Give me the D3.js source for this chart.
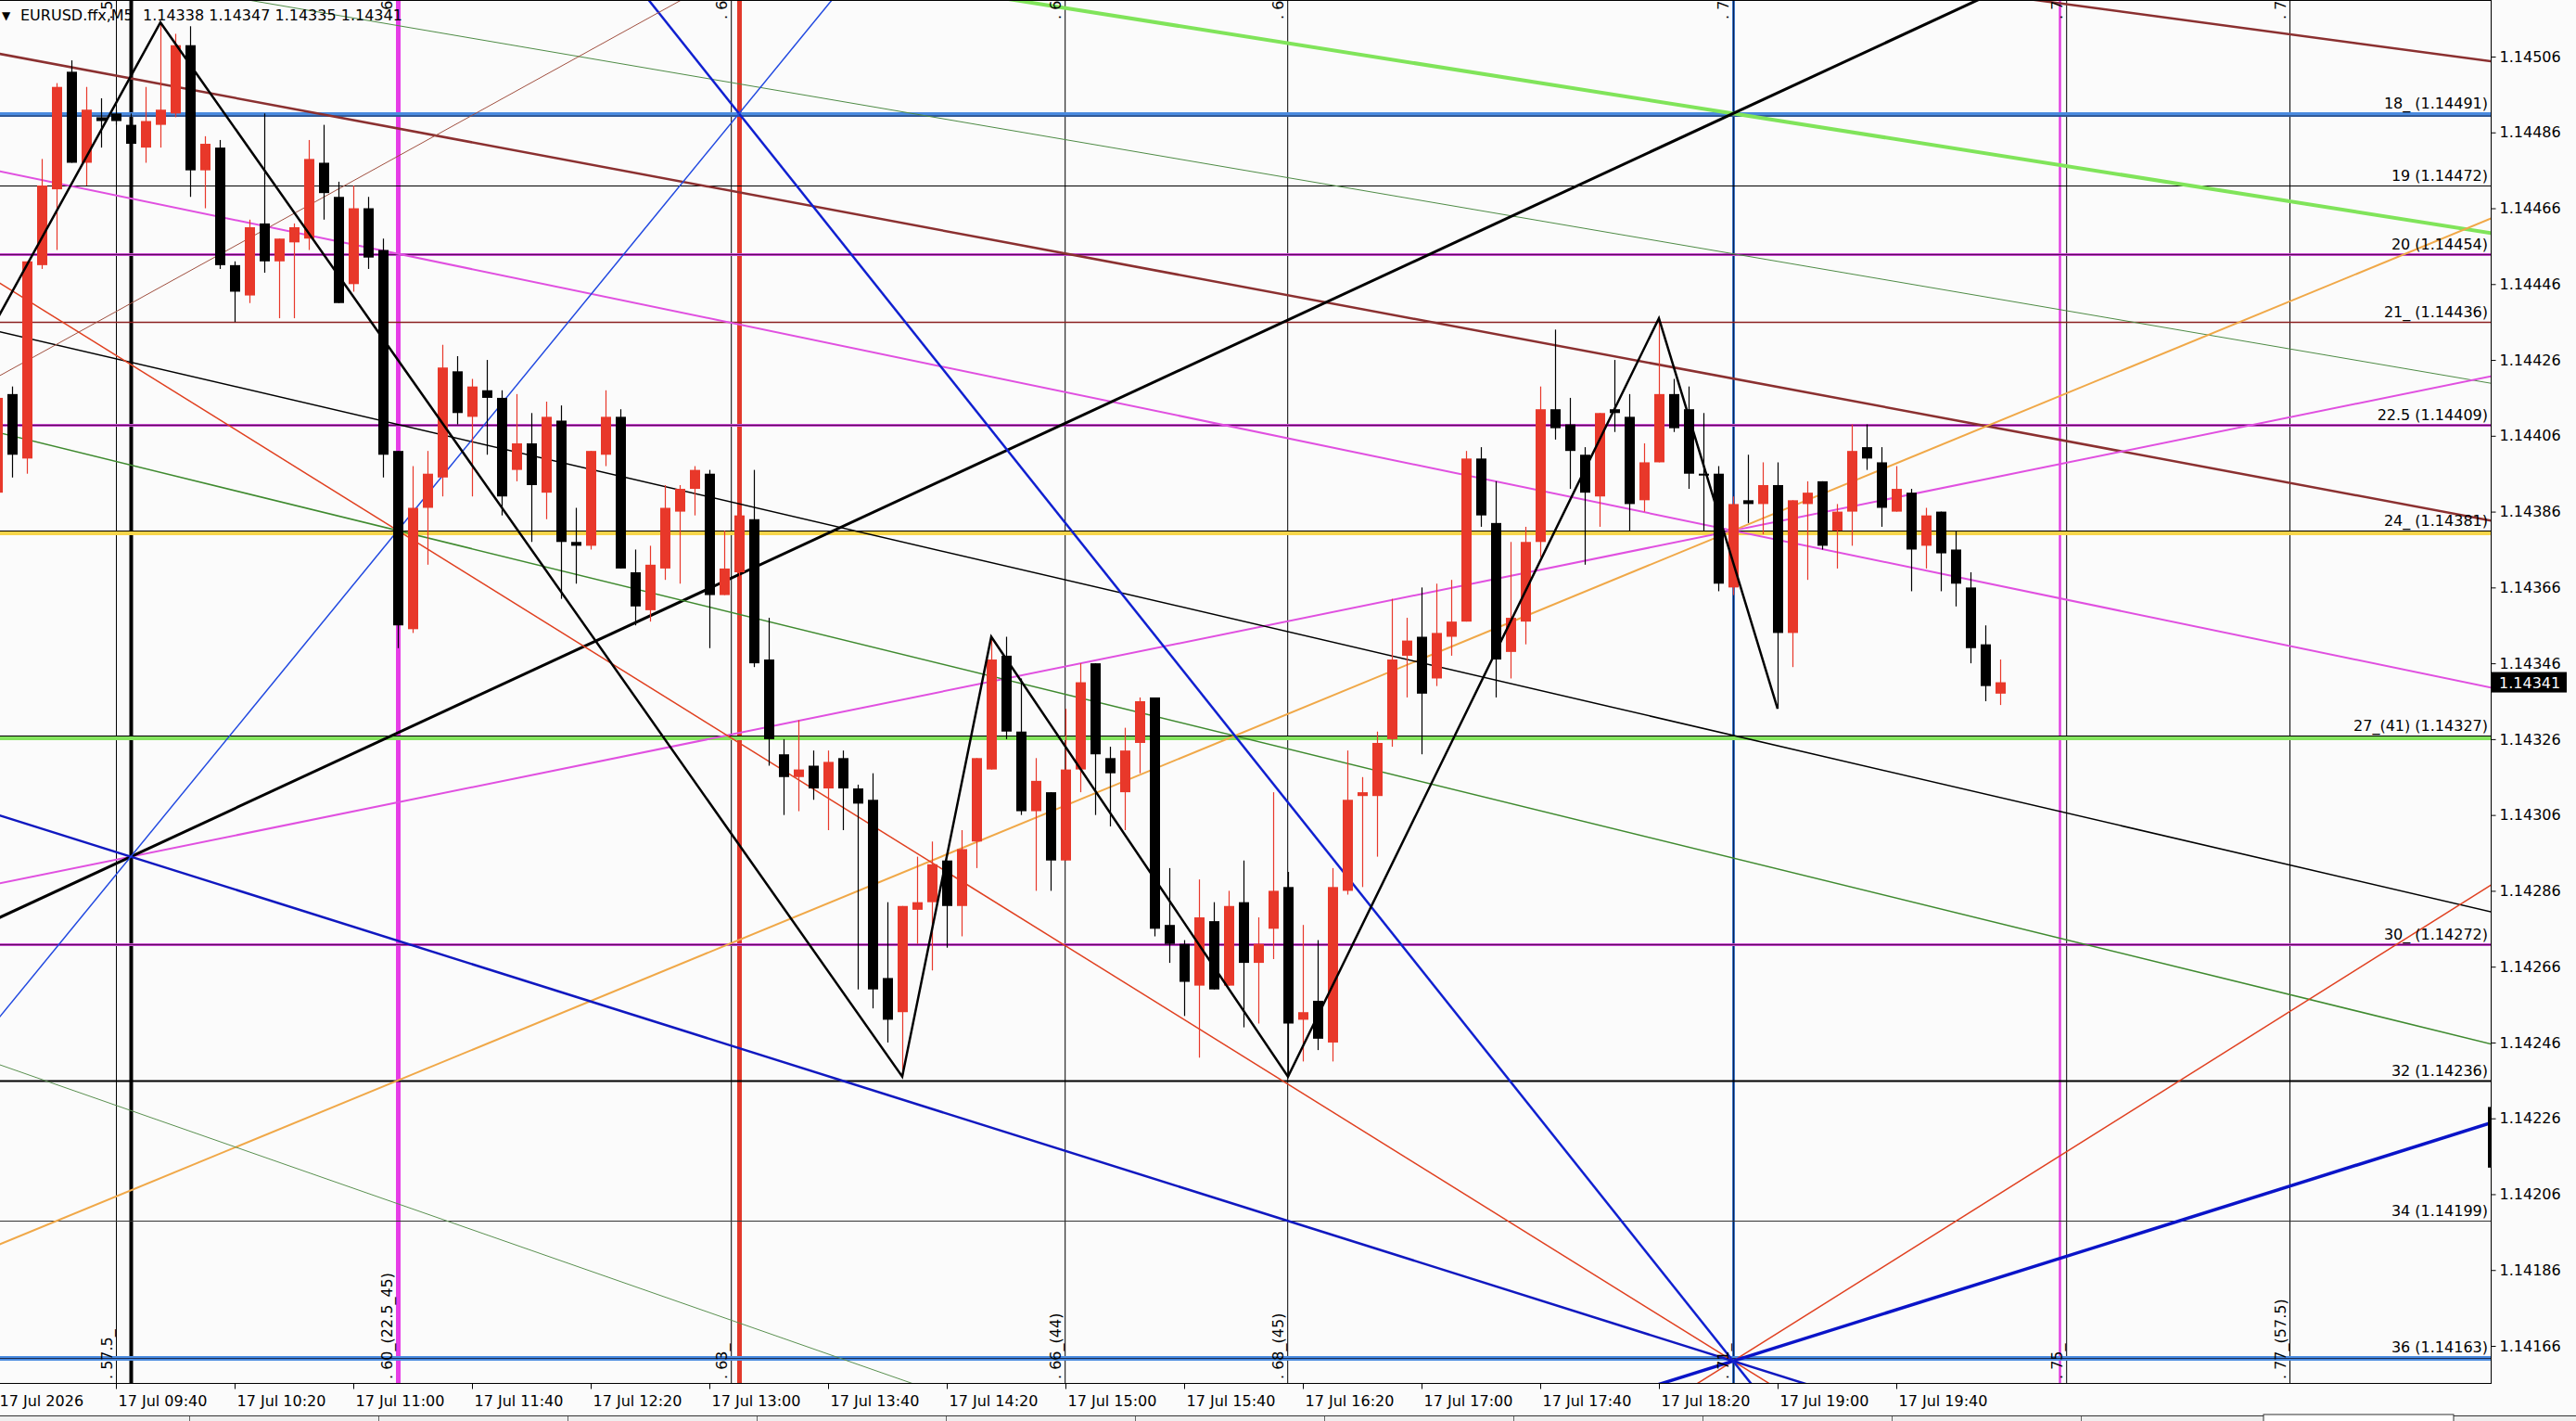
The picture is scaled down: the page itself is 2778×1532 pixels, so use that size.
<!DOCTYPE html>
<html>
<head>
<meta charset="utf-8">
<title>EURUSD.ffx,M5</title>
<script src="https://d3js.org/d3.v7.min.js"></script>
<style>
  body { margin: 0; background: #fbfbfb; }
  svg text { font-family: "DejaVu Sans", Verdana, sans-serif; font-size: 16px; fill: #000; }
</style>
</head>
<body>
<div id="chart"></div>
<script>
// ---- data ----
const symbolTitle = "EURUSD.ffx,M5";
const lastQuote = [1.14338, 1.14347, 1.14335, 1.14341];

// M5 bars, first one is 17 Jul 09:00 (bar index 0)
const opens = [1.14391,1.14417,1.14400,1.14451,1.14471,1.14502,1.14478,1.14490,1.14491,1.14488,
  1.14482,1.14488,1.14491,1.14509,1.14476,1.14482,1.14451,1.14443,1.14462,1.14452,
  1.14457,1.14458,1.14478,1.14469,1.14446,1.14466,1.14455,1.14402,1.14355,1.14387,
  1.14395,1.14423,1.14411,1.14418,1.14416,1.14397,1.14404,1.14391,1.14410,1.14378,
  1.14377,1.14401,1.14411,1.14370,1.14360,1.14371,1.14386,1.14392,1.14396,1.14364,
  1.14370,1.14384,1.14347,1.14322,1.14316,1.14319,1.14313,1.14321,1.14313,1.14310,
  1.14263,1.14254,1.14281,1.14283,1.14294,1.14282,1.14299,1.14318,1.14348,1.14328,
  1.14307,1.14312,1.14294,1.14318,1.14346,1.14321,1.14312,1.14325,1.14337,1.14277,
  1.14272,1.14261,1.14278,1.14261,1.14283,1.14267,1.14276,1.14287,1.14252,1.14257,
  1.14246,1.14286,1.14311,1.14311,1.14326,1.14348,1.14353,1.14342,1.14353,1.14357,
  1.14400,1.14383,1.14349,1.14357,1.14378,1.14413,1.14409,1.14401,1.14390,1.14413,
  1.14411,1.14389,1.14399,1.14417,1.14413,1.14396,1.14396,1.14366,1.14389,1.14388,
  1.14393,1.14354,1.14388,1.14394,1.14381,1.14386,1.14403,1.14399,1.14386,1.14391,
  1.14377,1.14386,1.14376,1.14366,1.14351,1.14338];
const highs = [1.14418,1.14419,1.14452,1.14479,1.14499,1.14505,1.14498,1.14495,1.14492,1.14491,
  1.14498,1.14515,1.14512,1.14514,1.14485,1.14484,1.14452,1.14463,1.14491,1.14458,
  1.14462,1.14484,1.14488,1.14473,1.14472,1.14469,1.14458,1.14402,1.14398,1.14402,
  1.14430,1.14427,1.14421,1.14426,1.14418,1.14417,1.14412,1.14415,1.14414,1.14387,
  1.14402,1.14418,1.14413,1.14376,1.14377,1.14393,1.14393,1.14398,1.14397,1.14381,
  1.14386,1.14397,1.14358,1.14326,1.14331,1.14323,1.14323,1.14323,1.14314,1.14317,
  1.14283,1.14282,1.14295,1.14299,1.14294,1.14302,1.14321,1.14353,1.14353,1.14342,
  1.14321,1.14312,1.14334,1.14346,1.14346,1.14324,1.14329,1.14337,1.14337,1.14292,
  1.14273,1.14289,1.14283,1.14286,1.14294,1.14279,1.14312,1.14291,1.14277,1.14273,
  1.14292,1.14323,1.14316,1.14328,1.14363,1.14358,1.14366,1.14367,1.14368,1.14402,
  1.14403,1.14394,1.14378,1.14382,1.14419,1.14434,1.14416,1.14403,1.14412,1.14426,
  1.14417,1.14404,1.14437,1.14421,1.14419,1.14412,1.14398,1.14390,1.14401,1.14399,
  1.14399,1.14389,1.14394,1.14394,1.14388,1.14409,1.14409,1.14403,1.14398,1.14392,
  1.14387,1.14386,1.14381,1.14370,1.14356,1.14347];
const lows = [1.14388,1.14395,1.14396,1.14450,1.14455,1.14478,1.14472,1.14482,1.14488,1.14483,
  1.14478,1.14482,1.14490,1.14469,1.14466,1.14450,1.14436,1.14441,1.14449,1.14437,
  1.14437,1.14455,1.14463,1.14441,1.14444,1.14450,1.14395,1.14350,1.14354,1.14372,
  1.14390,1.14409,1.14390,1.14401,1.14385,1.14394,1.14378,1.14384,1.14363,1.14367,
  1.14376,1.14398,1.14371,1.14356,1.14357,1.14368,1.14367,1.14385,1.14350,1.14364,
  1.14368,1.14345,1.14319,1.14306,1.14307,1.14310,1.14302,1.14302,1.14260,1.14255,
  1.14246,1.14237,1.14272,1.14265,1.14271,1.14274,1.14292,1.14318,1.14326,1.14306,
  1.14286,1.14286,1.14294,1.14312,1.14306,1.14303,1.14302,1.14317,1.14274,1.14267,
  1.14253,1.14242,1.14260,1.14261,1.14250,1.14251,1.14268,1.14237,1.14241,1.14244,
  1.14241,1.14285,1.14287,1.14295,1.14324,1.14337,1.14322,1.14340,1.14348,1.14357,
  1.14382,1.14337,1.14342,1.14351,1.14374,1.14405,1.14392,1.14372,1.14382,1.14407,
  1.14381,1.14386,1.14399,1.14407,1.14392,1.14381,1.14365,1.14364,1.14383,1.14380,
  1.14334,1.14345,1.14368,1.14376,1.14371,1.14377,1.14397,1.14382,1.14386,1.14365,
  1.14371,1.14365,1.14361,1.14346,1.14336,1.14335];
const closes = [1.14416,1.14401,1.14452,1.14472,1.14498,1.14478,1.14492,1.14489,1.14489,1.14483,
  1.14489,1.14492,1.14509,1.14476,1.14483,1.14451,1.14444,1.14461,1.14452,1.14458,
  1.14461,1.14479,1.14470,1.14441,1.14466,1.14453,1.14401,1.14356,1.14387,1.14396,
  1.14424,1.14412,1.14419,1.14416,1.14390,1.14404,1.14393,1.14411,1.14378,1.14377,
  1.14402,1.14411,1.14371,1.14361,1.14372,1.14387,1.14392,1.14397,1.14364,1.14371,
  1.14385,1.14346,1.14326,1.14316,1.14318,1.14313,1.14320,1.14313,1.14309,1.14260,
  1.14252,1.14282,1.14283,1.14293,1.14282,1.14297,1.14321,1.14347,1.14328,1.14307,
  1.14315,1.14294,1.14318,1.14341,1.14322,1.14317,1.14323,1.14336,1.14276,1.14272,
  1.14262,1.14279,1.14260,1.14282,1.14267,1.14272,1.14286,1.14251,1.14254,1.14247,
  1.14287,1.14310,1.14312,1.14325,1.14347,1.14352,1.14338,1.14354,1.14357,1.14400,
  1.14385,1.14347,1.14358,1.14378,1.14413,1.14408,1.14402,1.14391,1.14412,1.14412,
  1.14388,1.14399,1.14417,1.14408,1.14396,1.14396,1.14367,1.14388,1.14388,1.14393,
  1.14354,1.14389,1.14391,1.14377,1.14386,1.14402,1.14400,1.14387,1.14392,1.14376,
  1.14385,1.14375,1.14367,1.14350,1.14340,1.14341];

const timeTickBars = [0, 8, 16, 24, 32, 40, 48, 56, 64, 72, 80, 88, 96, 104, 112, 120, 128];
const timeTickLabels = ["17 Jul 2026", "17 Jul 09:40", "17 Jul 10:20", "17 Jul 11:00", "17 Jul 11:40",
  "17 Jul 12:20", "17 Jul 13:00", "17 Jul 13:40", "17 Jul 14:20", "17 Jul 15:00", "17 Jul 15:40",
  "17 Jul 16:20", "17 Jul 17:00", "17 Jul 17:40", "17 Jul 18:20", "17 Jul 19:00", "17 Jul 19:40"];

const priceTicks = [1.14506, 1.14486, 1.14466, 1.14446, 1.14426, 1.14406, 1.14386, 1.14366, 1.14346,
  1.14326, 1.14306, 1.14286, 1.14266, 1.14246, 1.14226, 1.14206, 1.14186, 1.14166];

const levelPrices = [1.14491, 1.14472, 1.14454, 1.14436, 1.14409, 1.14381, 1.14327, 1.14272, 1.14236, 1.14199, 1.14163];
const levelLabels = ["18_ (1.14491)", "19 (1.14472)", "20 (1.14454)", "21_ (1.14436)", "22.5 (1.14409)",
  "24_ (1.14381)", "27_(41) (1.14327)", "30_ (1.14272)", "32 (1.14236)", "34 (1.14199)", "36 (1.14163)"];

// vertical (time) lines, in bar units
const vlineBars = [8, 9, 27, 49.45, 50, 71.95, 86.95, 117, 139, 139.45, 154.5];
const vlineLabels = [". 57.5_", "", ". 60_(22.5_45)", ". 63_", "", ". 66_(44)", ". 68_(45)", ". 71_", "", ". 75_", ". 77_(57.5)"];

// trend lines: [bar1, price1, bar2, price2], drawn as full lines
const trendLines = [
  [0.19, 1.145067, 168, 1.143837],
  [137.4, 1.145209, 168, 1.145048],
  [117, 1.14491, 168, 1.144595],
  [117, 1.14454, 168, 1.144199],
  [27, 1.14454, 117, 1.14381],
  [9, 1.14295, 117, 1.14381],
  [27, 1.14236, 117, 1.14381],
  [9, 1.14295, 117, 1.14491],
  [27, 1.14409, 117, 1.14327],
  [27, 1.14381, 168, 1.142457],
  [27, 1.14381, 117, 1.14162],
  [117, 1.14162, 168, 1.142873],
  [117, 1.14162, 168, 1.142247],
  [9, 1.14295, 117, 1.14162],
  [50, 1.14491, 117, 1.14162],
  [9, 1.14295, 50, 1.14491],
  [0.19, 1.144219, 46.1, 1.145209],
  [0.19, 1.142401, 61.6, 1.141562]
];

const zigzagBars = [-8, 11, 61, 67, 87, 112, 120];
const zigzagPrices = [1.14380, 1.14515, 1.14237, 1.14353, 1.14237, 1.14437, 1.14334];

// ---- styles ----
const levelStyles = [
  { color: "#4a8be0", width: 5, shift: 1, core: "#1a2a50", coreShift: 2.5 },
  { color: "#000", width: 1 },
  { color: "#c84ad0", width: 3, core: "#5a0a5a" },
  { color: "#8b2020", width: 1.5 },
  { color: "#c84ad0", width: 3, core: "#5a0a5a" },
  { color: "#f7d54a", width: 4, shift: 2.5, core: "#000", coreShift: 0 },
  { color: "#84e45e", width: 4, shift: 2.5, core: "#000", coreShift: 0 },
  { color: "#c84ad0", width: 3, core: "#5a0a5a" },
  { color: "#000", width: 2 },
  { color: "#333", width: 1 },
  { color: "#4a8be0", width: 5, shift: 1, core: "#1a2a50", coreShift: 1 }
];
const vlineColors = ["#000", "#000", "#e63de6", "#000", "#e2392b", "#000", "#000", "#3b74c4", "#e040e0", "#000", "#000"];
const vlineWidths = [1, 4, 5, 1, 5, 1, 1, 3, 2.5, 1, 1];
const trendColors = ["#8b3030", "#8b3030", "#80e45a", "#4e8b45", "#e050e0", "#e050e0", "#f0a848", "#000",
  "#000", "#3f8a2f", "#e04020", "#e04020", "#0a14c8", "#1018c0", "#1020d0", "#2048e0", "#a05040", "#5a9050"];
const trendWidths = [2.5, 2.5, 4, 1, 2, 2, 2, 3, 1.5, 1.5, 1.5, 1.5, 3.5, 2.5, 2.5, 1.5, 1, 1];

const W = 2778, H = 1532;
const plotW = 2686, plotH = 1491;

const svg = d3.select("#chart").append("svg")
  .attr("width", W)
  .attr("height", H)
  .style("background-color", "#fbfbfb");

const xScale = d3.scaleLinear().domain([0, 168]).range([-3, 2685]);
const yScale = d3.scaleLinear().domain([1.14166, 1.14506]).range([1451, 61]);

svg.append("clipPath").attr("id", "plotClip")
  .append("rect").attr("x", 0).attr("y", 0).attr("width", plotW).attr("height", plotH);

const plot = svg.append("g").attr("clip-path", "url(#plotClip)");

// vertical lines
vlineBars.forEach((b, i) => {
  plot.append("line")
    .attr("x1", xScale(b) + 0.5).attr("x2", xScale(b) + 0.5)
    .attr("y1", 0).attr("y2", plotH)
    .attr("stroke", vlineColors[i])
    .attr("stroke-width", vlineWidths[i]);
  if (i === 7) {
    plot.append("line")
      .attr("x1", xScale(b) + 0.5).attr("x2", xScale(b) + 0.5)
      .attr("y1", 0).attr("y2", plotH)
      .attr("stroke", "#0b2050").attr("stroke-width", 1);
  }
});

// horizontal levels
levelPrices.forEach((p, i) => {
  const s = levelStyles[i];
  const y = Math.round(yScale(p)) + 0.5;
  plot.append("line")
    .attr("x1", 0).attr("x2", plotW)
    .attr("y1", y + (s.shift || 0)).attr("y2", y + (s.shift || 0))
    .attr("stroke", s.color).attr("stroke-width", s.width);
  if (s.core) {
    plot.append("line")
      .attr("x1", 0).attr("x2", plotW)
      .attr("y1", y + (s.coreShift || 0)).attr("y2", y + (s.coreShift || 0))
      .attr("stroke", s.core).attr("stroke-width", 1);
  }
});

// trend lines extended over the whole plot
const priceAt = (t, k) => t[1] + (k - t[0]) * (t[3] - t[1]) / (t[2] - t[0]);
trendLines.forEach((t, i) => {
  plot.append("line")
    .attr("x1", xScale(-2)).attr("y1", yScale(priceAt(t, -2)))
    .attr("x2", xScale(172)).attr("y2", yScale(priceAt(t, 172)))
    .attr("stroke", trendColors[i])
    .attr("stroke-width", trendWidths[i]);
});

// candles
const bars = opens.map((o, i) => ({ i: i, o: o, h: highs[i], l: lows[i], c: closes[i] }));
const candle = plot.selectAll("g.candle")
  .data(bars)
  .enter()
  .append("g")
  .attr("class", "candle");

candle.append("line")
  .attr("x1", d => Math.round(xScale(d.i)) + 0.5)
  .attr("x2", d => Math.round(xScale(d.i)) + 0.5)
  .attr("y1", d => yScale(d.h))
  .attr("y2", d => yScale(d.l))
  .attr("stroke", d => d.c > d.o ? "#e8382a" : "#000")
  .attr("stroke-width", 1.2);

candle.append("rect")
  .attr("x", d => Math.round(xScale(d.i)) - 5)
  .attr("width", 11)
  .attr("y", d => yScale(Math.max(d.o, d.c)))
  .attr("height", d => Math.max(2, yScale(Math.min(d.o, d.c)) - yScale(Math.max(d.o, d.c))))
  .attr("fill", d => d.c > d.o ? "#e8382a" : "#000");

// zigzag
const zz = d3.line()
  .x(d => xScale(d[0]))
  .y(d => yScale(d[1]));
plot.append("path")
  .datum(zigzagBars.map((b, i) => [b, zigzagPrices[i]]))
  .attr("d", zz)
  .attr("fill", "none")
  .attr("stroke", "#000")
  .attr("stroke-width", 2.5);

// level labels
levelPrices.forEach((p, i) => {
  plot.append("text")
    .attr("x", plotW - 3)
    .attr("y", Math.round(yScale(p)) - 5)
    .attr("text-anchor", "end")
    .text(levelLabels[i]);
});

// vertical line labels (rotated), bottom and top
vlineBars.forEach((b, i) => {
  if (!vlineLabels[i]) return;
  const lx = xScale(b) - 4 - vlineWidths[i] / 2;
  plot.append("text")
    .attr("transform", "translate(" + lx + "," + (plotH - 4) + ") rotate(-90)")
    .attr("xml:space", "preserve")
    .text(vlineLabels[i]);
  plot.append("text")
    .attr("transform", "translate(" + lx + ",21) rotate(-90)")
    .attr("xml:space", "preserve")
    .text(vlineLabels[i]);
});

// header
svg.append("text")
  .attr("x", 2).attr("y", 21)
  .style("font-size", "12px")
  .text("\u25BC");
svg.append("text")
  .attr("x", 22).attr("y", 22)
  .attr("xml:space", "preserve")
  .text(symbolTitle + "  " + lastQuote.map(d3.format(".5f")).join(" "));

// frame
svg.append("line").attr("x1", 0).attr("x2", plotW).attr("y1", 0.5).attr("y2", 0.5).attr("stroke", "#000");
svg.append("line").attr("x1", 0).attr("x2", plotW + 0.5).attr("y1", plotH + 0.5).attr("y2", plotH + 0.5).attr("stroke", "#000");
svg.append("line").attr("x1", plotW + 0.5).attr("x2", plotW + 0.5).attr("y1", 0).attr("y2", plotH + 1).attr("stroke", "#000");

// price axis
const yAxis = d3.axisRight(yScale)
  .tickValues(priceTicks)
  .tickFormat(d3.format(".5f"))
  .tickSize(5)
  .tickPadding(4);
const yG = svg.append("g")
  .attr("transform", "translate(" + (plotW + 0.5) + ",0)")
  .call(yAxis);
yG.select(".domain").remove();
yG.selectAll("text").style("font-family", "\"DejaVu Sans\", Verdana, sans-serif").style("font-size", "16px");

// current price marker
const yq = yScale(lastQuote[3]);
svg.append("rect")
  .attr("x", plotW + 1).attr("y", yq - 11)
  .attr("width", 81).attr("height", 22)
  .attr("fill", "#000");
svg.append("text")
  .attr("x", plotW + 9).attr("y", yq + 6)
  .style("fill", "#fff")
  .text(d3.format(".5f")(lastQuote[3]));

// small black bar at the right edge
svg.append("line")
  .attr("x1", plotW - 1).attr("x2", plotW - 1)
  .attr("y1", yScale(1.14229)).attr("y2", yScale(1.14213))
  .attr("stroke", "#000").attr("stroke-width", 4);

// time axis
const xAxis = d3.axisBottom(xScale)
  .tickValues(timeTickBars)
  .tickFormat((d, i) => timeTickLabels[i])
  .tickSize(6)
  .tickPadding(4);
const xG = svg.append("g")
  .attr("transform", "translate(0," + (plotH + 0.5) + ")")
  .call(xAxis);
xG.select(".domain").remove();
xG.selectAll("text")
  .attr("text-anchor", "start")
  .attr("x", 2)
  .attr("dy", "0.9em")
  .style("font-family", "\"DejaVu Sans\", Verdana, sans-serif")
  .style("font-size", "16px");

// bottom tab strip
svg.append("rect").attr("x", 0).attr("y", 1526).attr("width", W).attr("height", 6).attr("fill", "#efefef");
svg.append("line").attr("x1", 0).attr("x2", W).attr("y1", 1526.5).attr("y2", 1526.5).attr("stroke", "#333");
d3.range(204, 2441, 204).forEach(x => {
  svg.append("line").attr("x1", x + 0.5).attr("x2", x + 0.5).attr("y1", 1527).attr("y2", 1532).attr("stroke", "#666");
});
svg.append("rect").attr("x", 2441).attr("y", 1525).attr("width", 205).attr("height", 8)
  .attr("fill", "#fff").attr("stroke", "#333");
</script>
</body>
</html>
